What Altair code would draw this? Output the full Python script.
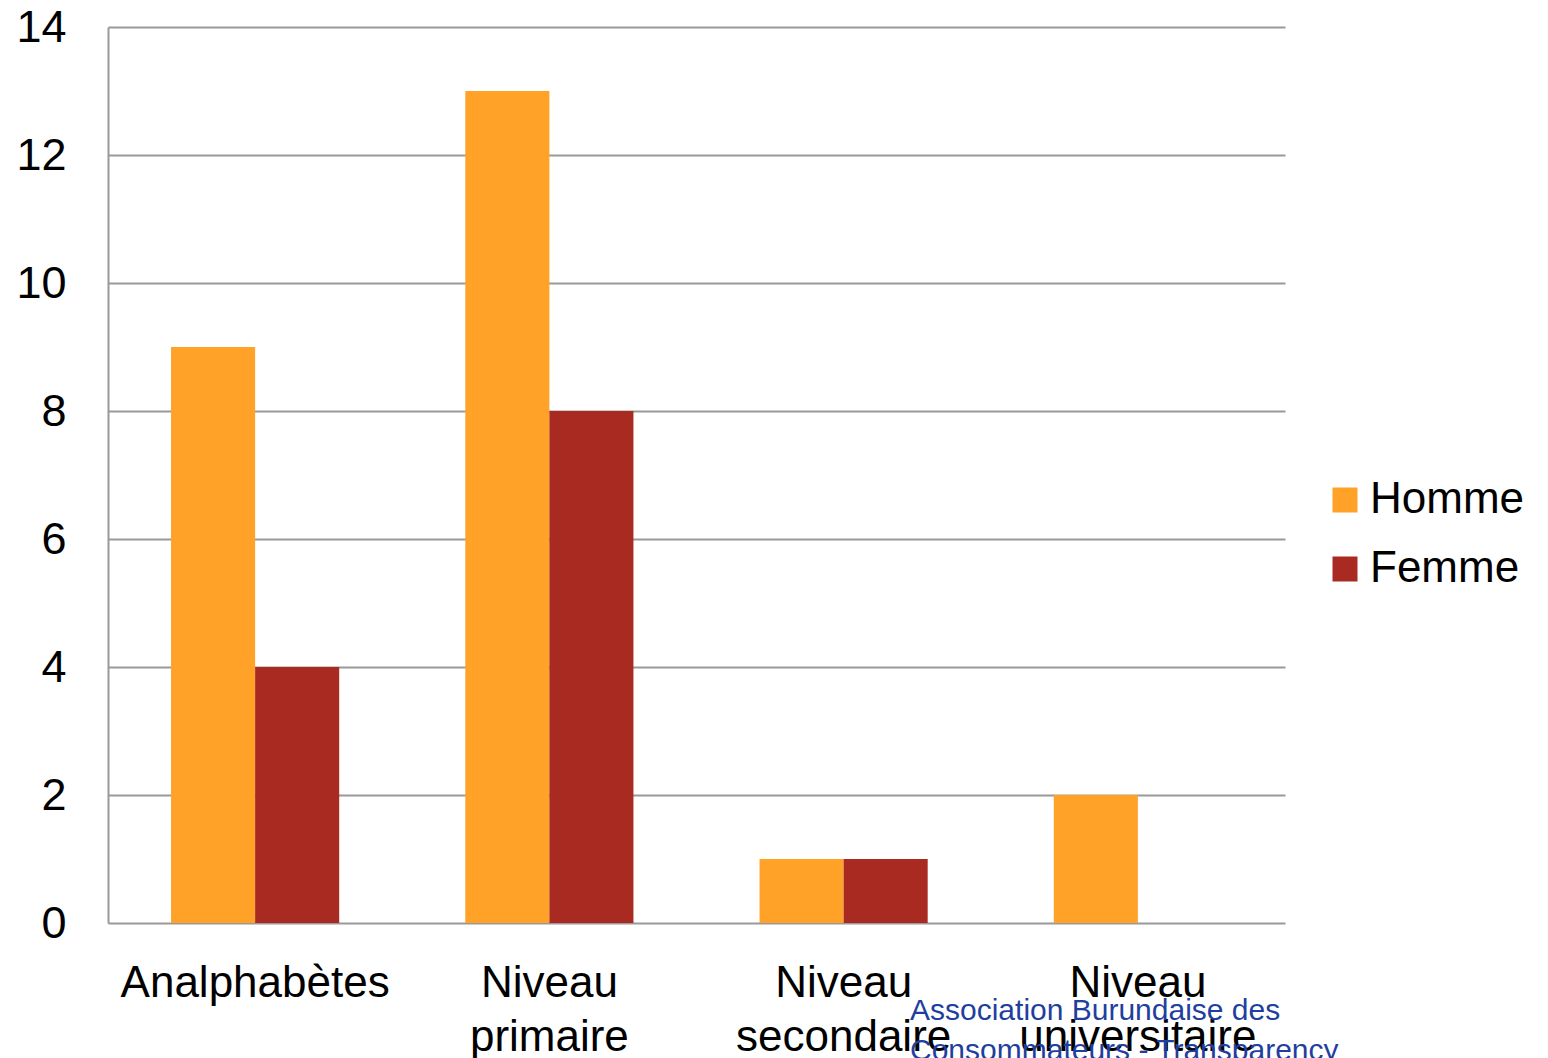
import altair as alt
import pandas as pd

categories = ["Analphabètes", "Niveau primaire", "Niveau secondaire", "Niveau universitaire"]
homme = [9, 13, 1, 2]
femme = [4, 8, 1, 0]
series = ["Homme", "Femme"]
colors = ["#FFA227", "#A92A20"]
y_ticks = [0, 2, 4, 6, 8, 10, 12, 14]
watermark = ["Association Burundaise des", "Consommateurs - Transparency"]

rows = []
for c, h, f in zip(categories, homme, femme):
    rows.append({"cat": c, "serie": "Homme", "val": h})
    rows.append({"cat": c, "serie": "Femme", "val": f})
df = pd.DataFrame(rows)

FONT = "Liberation Sans"

bars = alt.Chart(df).mark_bar().encode(
    x=alt.X("cat:N", sort=categories, title=None,
            scale=alt.Scale(paddingInner=0, paddingOuter=0),
            axis=alt.Axis(labelAngle=0, labelFontSize=44, labelFont=FONT, labelColor="black",
                          labelPadding=38, ticks=False, domain=False, grid=False,
                          labelExpr="split(datum.label, ' ')", labelLineHeight=54,
                          labelBaseline="top", labelLimit=600)),
    xOffset=alt.XOffset("serie:N", sort=series,
                        scale=alt.Scale(paddingOuter=0.75, paddingInner=0)),
    y=alt.Y("val:Q", title=None,
            scale=alt.Scale(domain=[0, 14], nice=False),
            axis=alt.Axis(values=y_ticks, labelFontSize=45, labelFont=FONT, labelColor="black",
                          labelPadding=42, ticks=False, domainColor="#999999", domainWidth=2,
                          grid=True, gridColor="#999999", gridWidth=2)),
    color=alt.Color("serie:N", sort=series,
                    scale=alt.Scale(domain=series, range=colors),
                    legend=alt.Legend(title=None, orient="none", legendX=1215, legendY=451,
                                      symbolType="square", symbolSize=625, symbolStrokeWidth=0,
                                      labelFontSize=44, labelFont=FONT, labelColor="black",
                                      labelOffset=3, rowPadding=25, padding=0,
                                      labelLimit=400)),
)

wm = alt.Chart(pd.DataFrame({"t": [watermark]})).mark_text(
    align="left", baseline="alphabetic", fontSize=30, font=FONT, color="#1F3F9F",
    lineHeight=40,
).encode(x=alt.value(802), y=alt.value(993), text="t:N")

chart = alt.layer(bars, wm).properties(
    width=1177, height=896,
    autosize=alt.AutoSizeParams(type="none"),
    padding={"left": 100, "top": 19, "right": 255, "bottom": 160},
).configure_view(stroke=None)

chart.save("out.html", embed_options={"renderer": "svg", "actions": False})
